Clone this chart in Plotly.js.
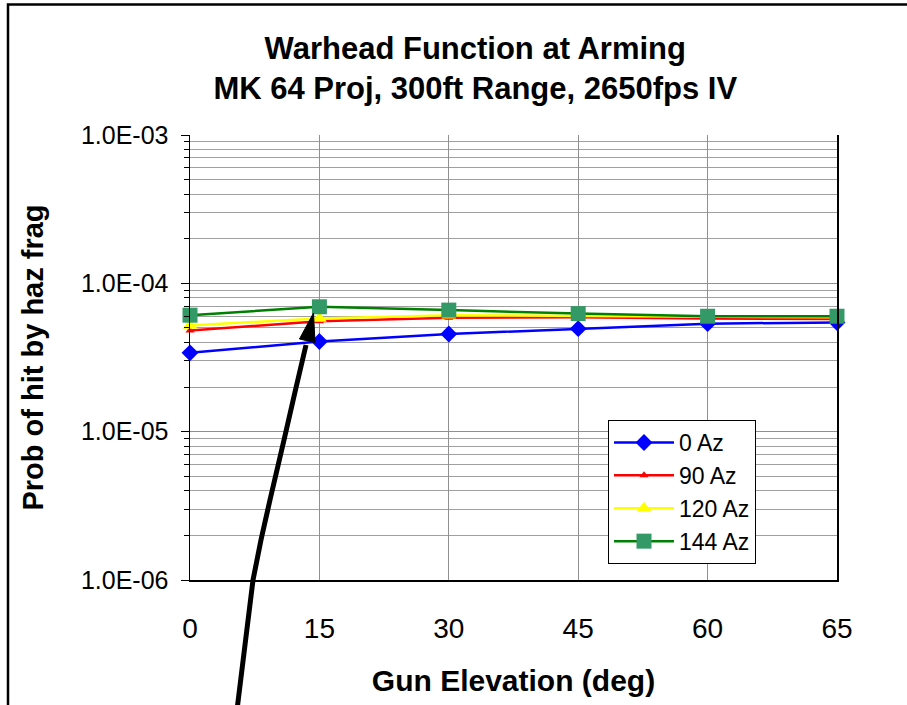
<!DOCTYPE html>
<html>
<head>
<meta charset="utf-8">
<script src="https://cdn.plot.ly/plotly-3.0.1.min.js"></script>
<style>html,body{margin:0;padding:0;background:#fff;}#chart{width:907px;height:705px;}</style>
</head>
<body>
<div id="chart"></div>
<script>
// ---- data ----
const elevations = ['0', '15', '30', '45', '60', '65'];
const az0   = [3.4e-5, 4.05e-5, 4.55e-5, 4.95e-5, 5.35e-5, 5.45e-5];
const az90  = [4.8e-5, 5.55e-5, 5.85e-5, 5.9e-5, 5.8e-5, 5.75e-5];
const az120 = [5.2e-5, 5.8e-5, 6.1e-5, 6.05e-5, 5.95e-5, 5.9e-5];
const az144 = [6.1e-5, 6.95e-5, 6.6e-5, 6.25e-5, 6.0e-5, 6.0e-5];
const seriesNames = ['0 Az', '90 Az', '120 Az', '144 Az'];
const yTickVals = [1e-6, 1e-5, 1e-4, 1e-3];
const yTickText = ['1.0E-06', '1.0E-05', '1.0E-04', '1.0E-03'];

const FONT = 'Arial, "Liberation Sans", sans-serif';

function mk(name, y, color, symbol, size, mcolor, lw) {
  return {
    type: 'scatter', mode: 'lines+markers', name: name, x: elevations, y: y,
    line: {color: color, width: lw},
    marker: {symbol: symbol, size: size, color: mcolor, line: {width: 0}},
    cliponaxis: false
  };
}
const traces = [
  mk(seriesNames[0], az0, '#0000FF', 'diamond', 13, '#0000FF', 2.5),
  mk(seriesNames[1], az90, '#FF0000', 'triangle-up', 8, '#FF0000', 2.5),
  mk(seriesNames[2], az120, '#FFFF00', 'triangle-up', 13, '#FFFF00', 2.5),
  mk(seriesNames[3], az144, '#008000', 'square', 15, '#339966', 2.5)
];

// decoration: pixel -> paper conversion (plot area 190..837 x 135..580)
const L = 190, R = 837, T = 135, B = 580;
function px(X) { return (X - L) / (R - L); }
function py(Y) { return (B - Y) / (B - T); }
function pathFrom(pts, close) {
  let s = pts.map((p, i) => (i ? 'L' : 'M') + px(p[0]).toFixed(4) + ',' + py(p[1]).toFixed(4)).join(' ');
  return close ? s + ' Z' : s;
}
const shaft = [[237.5, 706], [245, 645], [253, 580], [261, 540], [270, 500], [284, 440], [295, 392], [306, 345]];
const head = [[313.5, 313], [299.5, 339], [315, 342.5]];

const layout = {
  width: 907, height: 705,
  margin: {l: L, r: 907 - R, t: T, b: 705 - B},
  paper_bgcolor: '#FFFFFF', plot_bgcolor: '#FFFFFF',
  font: {family: FONT, color: '#000'},
  title: {
    text: 'Warhead Function at Arming<br>MK 64 Proj, 300ft Range, 2650fps IV',
    font: {family: FONT, size: 31, weight: 700, color: '#000'},
    x: 0.524, xanchor: 'center', xref: 'container',
    y: 0.917, yanchor: 'top', yref: 'container'
  },
  xaxis: {
    type: 'category', range: [0, 5],
    showgrid: true, gridcolor: '#909090', gridwidth: 1,
    showline: true, linecolor: '#000', linewidth: 1.5,
    ticks: '', ticklabelstandoff: 23,
    tickfont: {family: FONT, size: 28, color: '#000'},
    title: {text: 'Gun Elevation (deg)', font: {family: FONT, size: 30, weight: 700, color: '#000'}, standoff: 27},
    zeroline: false, fixedrange: true
  },
  yaxis: {
    type: 'log', range: [-6, -3],
    tickmode: 'array', tickvals: yTickVals, ticktext: yTickText,
    ticks: 'outside', ticklen: 8, tickcolor: '#000', tickwidth: 1,
    ticklabelstandoff: 7,
    showgrid: true, gridcolor: '#909090', gridwidth: 1,
    minor: {dtick: 'D1', showgrid: true, gridcolor: '#A0A0A0', gridwidth: 1, ticks: 'outside', ticklen: 5, tickcolor: '#000'},
    showline: true, linecolor: '#000', linewidth: 1.5, mirror: true,
    tickfont: {family: FONT, size: 25, color: '#000'},
    title: {text: 'Prob of hit by haz frag', font: {family: FONT, size: 29, weight: 700, color: '#000'}, standoff: 29},
    zeroline: false, fixedrange: true
  },
  legend: {
    x: px(608), y: py(420), xanchor: 'left', yanchor: 'top',
    bgcolor: '#FFFFFF', bordercolor: '#000', borderwidth: 1,
    font: {family: FONT, size: 23, color: '#000'},
    tracegroupgap: 0, itemwidth: 60
  },
  showlegend: true,
  shapes: [
    {type: 'rect', xref: 'paper', yref: 'paper', x0: px(8), x1: px(1000), y0: py(4.5), y1: py(800),
     line: {color: '#000', width: 2.5}, fillcolor: 'rgba(0,0,0,0)'},
    {type: 'path', xref: 'paper', yref: 'paper', path: pathFrom(shaft, false), line: {color: '#000', width: 5}},
    {type: 'path', xref: 'paper', yref: 'paper', path: pathFrom(head, true), line: {color: '#000', width: 1}, fillcolor: '#000'}
  ]
};

Plotly.newPlot('chart', traces, layout, {displayModeBar: false, staticPlot: true});
</script>
</body>
</html>
